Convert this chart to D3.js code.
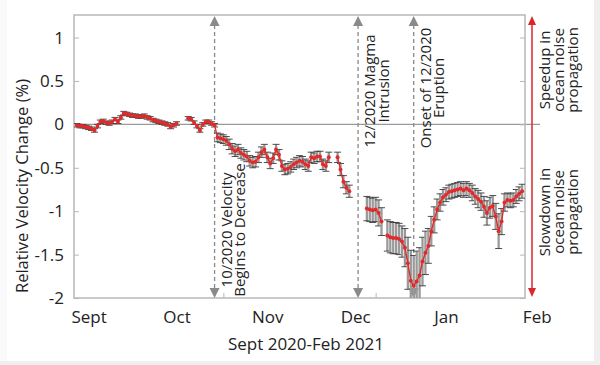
<!DOCTYPE html>
<html>
<head>
<meta charset="utf-8">
<script src="https://cdn.jsdelivr.net/npm/d3@7"></script>
<style>
  body { margin: 0; background: #fff; }
  svg { display: block; font-family: "Open Sans", sans-serif; }
</style>
</head>
<body>
<div id="chart"></div>
<script>
//size
const width = 600;
const height = 365;

//plot box
const plot = { left: 74, right: 525, top: 15, bottom: 298 };

//first sample, then one sample per day
const firstDay = "2020-08-28";

//relative velocity change (%), null = no measurement
const dvv = [
  -0.01, -0.02, -0.02, -0.03, -0.04, -0.05, -0.07, -0.02, 0.03, 0.04,
  0.02, 0.01, 0.03, 0.06, 0.03, 0.08, 0.13, 0.12, 0.11, 0.10,
  0.10, 0.09, 0.09, 0.10, 0.08, 0.07, 0.05, 0.04, 0.03, 0.02,
  0.01, 0.00, -0.03, -0.01, 0.01, null, null, null, 0.07, 0.06,
  0.02, -0.02, -0.07, 0.00, 0.03, 0.03, 0.01, -0.01,
  -0.15, -0.16, -0.17, -0.19, -0.23, -0.28, -0.31, -0.29, -0.33, -0.35,
  -0.37, -0.42, -0.44, -0.43, -0.38, -0.32, -0.29, -0.38, -0.45, -0.39,
  -0.29, -0.35, -0.48, -0.52, -0.51, -0.49, -0.46, -0.44, -0.42, -0.43,
  -0.46, -0.48, -0.38, -0.39, -0.37, -0.37, -0.46, -0.48, -0.38, null,
  null, -0.38, -0.52, -0.66, -0.73, -0.77,
  null, null, null, null, null,
  -0.97, -0.98, -0.99, -0.98, -1.02, -1.12, null,
  -1.28, -1.30, -1.31, -1.31, -1.32, -1.35,
  -1.42, -1.60, -1.80, -1.86, -1.81, -1.74, -1.58, -1.48, -1.40,
  -1.23, -1.10, -0.98, -0.90, -0.84, -0.81, -0.78, -0.77, -0.76, -0.75,
  -0.74, -0.76, -0.74, -0.76, -0.79, -0.83, -0.86, -0.89,
  -0.95, -1.02, -0.96, -0.94, -1.06, -1.23, -1.12, -0.90, -0.87, -0.88,
  -0.87, -0.83, -0.80, -0.77,
];

//error bar half length (%)
const dvvErr = [
  0.02, 0.02, 0.02, 0.02, 0.02, 0.02, 0.02, 0.02, 0.02, 0.02,
  0.02, 0.02, 0.02, 0.02, 0.02, 0.02, 0.02, 0.02, 0.02, 0.02,
  0.02, 0.02, 0.02, 0.02, 0.02, 0.02, 0.02, 0.02, 0.02, 0.02,
  0.02, 0.02, 0.02, 0.02, 0.02, 0, 0, 0, 0.02, 0.02,
  0.02, 0.02, 0.02, 0.02, 0.02, 0.02, 0.02, 0.02,
  0.05, 0.05, 0.05, 0.05, 0.06, 0.06, 0.06, 0.06, 0.06, 0.06,
  0.06, 0.06, 0.06, 0.06, 0.06, 0.06, 0.06, 0.06, 0.06, 0.06,
  0.06, 0.06, 0.06, 0.06, 0.06, 0.06, 0.06, 0.06, 0.06, 0.06,
  0.06, 0.06, 0.06, 0.06, 0.06, 0.06, 0.06, 0.06, 0.06, 0,
  0, 0.06, 0.07, 0.07, 0.07, 0.07,
  0, 0, 0, 0, 0,
  0.14, 0.14, 0.14, 0.14, 0.15, 0.16, 0,
  0.18, 0.18, 0.18, 0.18, 0.18, 0.18,
  0.22, 0.30, 0.35, 0.35, 0.35, 0.32, 0.28, 0.25, 0.20,
  0.17, 0.15, 0.12, 0.10, 0.09, 0.08, 0.08, 0.08, 0.08, 0.08,
  0.08, 0.08, 0.08, 0.08, 0.09, 0.09, 0.10, 0.10,
  0.12, 0.14, 0.12, 0.12, 0.15, 0.20, 0.15, 0.10, 0.08, 0.08,
  0.08, 0.08, 0.08, 0.08,
];

//x axis
const xDomain = ["2020-08-27", "2021-01-28"];
const monthDates = ["2020-09-01", "2020-10-01", "2020-11-01", "2020-12-01", "2021-01-01", "2021-02-01"];
const monthLabels = ["Sept", "Oct", "Nov", "Dec", "Jan", "Feb"];
const minorTickDates = ["2020-10-17", "2020-12-08"];

//y axis
const yDomain = [-2, 1.26];
const yTicks = [1, 0.5, 0, -0.5, -1, -1.5, -2];

//events
const eventDates = ["2020-10-14", "2020-12-02", "2020-12-21"];
const eventLabels = [
  ["10/2020 Velocity", "Begins to Decrease"],
  ["12/2020 Magma", "Intrusion"],
  ["Onset of 12/2020", "Eruption"],
];
//label centre (y) for each event label
const eventLabelY = [230, 91, 88];

const parseDate = d3.utcParse("%Y-%m-%d");
const red = "#e12a2a";
const textColor = "#222";
const axisFont = 17;

//scales
const x = d3.scaleUtc().domain(xDomain.map(parseDate)).range([plot.left, plot.right]);
const y = d3.scaleLinear().domain(yDomain).range([plot.bottom, plot.top]);

//samples
const start = parseDate(firstDay);
const samples = dvv.map((v, i) => ({
  date: d3.utcDay.offset(start, i),
  v: v,
  err: dvvErr[i],
}));
const valid = samples.filter((d) => d.v !== null);

const svg = d3
  .select("#chart")
  .append("svg")
  .attr("width", width)
  .attr("height", height);

//page frame
svg.append("rect").attr("width", width).attr("height", height).attr("fill", "#efefef");
svg.append("rect").attr("x", 7).attr("y", 0).attr("width", 587).attr("height", 361).attr("fill", "#fff");
svg.append("rect").attr("x", 0).attr("y", 0).attr("width", 7).attr("height", 361).attr("fill", "#fafafa");

//clip for data
svg
  .append("clipPath")
  .attr("id", "clip")
  .append("rect")
  .attr("x", plot.left)
  .attr("y", plot.top)
  .attr("width", plot.right - plot.left)
  .attr("height", plot.bottom - plot.top);

//zero line
svg
  .append("line")
  .attr("x1", plot.left)
  .attr("x2", 540)
  .attr("y1", y(0))
  .attr("y2", y(0))
  .attr("stroke", "#9a9a9a")
  .attr("stroke-width", 1.2);

//plot box
svg
  .append("rect")
  .attr("x", plot.left)
  .attr("y", plot.top)
  .attr("width", plot.right - plot.left)
  .attr("height", plot.bottom - plot.top)
  .attr("fill", "none")
  .attr("stroke", "#b8b8b8")
  .attr("stroke-width", 1.5);

//left axis
const gLeft = svg
  .append("g")
  .attr("transform", `translate(${plot.left},0)`)
  .call(d3.axisLeft(y).tickValues(yTicks).tickSize(-5).tickPadding(10).tickFormat(d3.format("")));
gLeft.select(".domain").remove();
gLeft.selectAll(".tick line").attr("stroke", "#b8b8b8");
gLeft
  .selectAll(".tick text")
  .attr("font-family", "Open Sans")
  .attr("font-size", axisFont)
  .attr("fill", textColor)
  .text((d) => (d < 0 ? "-" + Math.abs(d) : d));

//right axis (ticks only)
const gRight = svg
  .append("g")
  .attr("transform", `translate(${plot.right},0)`)
  .call(d3.axisRight(y).tickValues(yTicks).tickSize(-5).tickFormat(""));
gRight.select(".domain").remove();
gRight.selectAll(".tick line").attr("stroke", "#b8b8b8");

//bottom axis month labels
const gBottom = svg
  .append("g")
  .attr("transform", `translate(0,${plot.bottom})`)
  .call(
    d3
      .axisBottom(x)
      .tickValues(monthDates.map(parseDate))
      .tickSize(0)
      .tickPadding(13)
      .tickFormat((d, i) => monthLabels[i])
  );
gBottom.select(".domain").remove();
gBottom
  .selectAll(".tick text")
  .attr("font-family", "Open Sans")
  .attr("font-size", axisFont)
  .attr("fill", textColor);

//bottom minor ticks
const gMinor = svg
  .append("g")
  .attr("transform", `translate(0,${plot.bottom})`)
  .call(d3.axisBottom(x).tickValues(minorTickDates.map(parseDate)).tickSize(-5).tickFormat(""));
gMinor.select(".domain").remove();
gMinor.selectAll(".tick line").attr("stroke", "#b8b8b8");

//axis titles
svg
  .append("text")
  .attr("x", 306)
  .attr("y", 350)
  .attr("text-anchor", "middle")
  .attr("font-size", axisFont)
  .attr("fill", textColor)
  .text("Sept 2020-Feb 2021");

svg
  .append("text")
  .attr("transform", "translate(28,186) rotate(-90)")
  .attr("text-anchor", "middle")
  .attr("font-size", 16.5)
  .attr("fill", textColor)
  .text("Relative Velocity Change (%)");

//event arrows
const gEvent = svg
  .selectAll("g.event")
  .data(eventDates.map(parseDate))
  .enter()
  .append("g")
  .attr("class", "event")
  .attr("transform", (d) => `translate(${x(d)},0)`);

gEvent
  .append("line")
  .attr("y1", plot.top + 10)
  .attr("y2", plot.bottom - 10)
  .attr("stroke", "#8a8a8a")
  .attr("stroke-width", 1.3)
  .attr("stroke-dasharray", "4,3");

gEvent
  .append("path")
  .attr("d", `M0,${plot.top + 1}L-5,${plot.top + 11}L5,${plot.top + 11}Z`)
  .attr("fill", "#8a8a8a");

gEvent
  .append("path")
  .attr("d", `M0,${plot.bottom}L-5,${plot.bottom - 10}L5,${plot.bottom - 10}Z`)
  .attr("fill", "#8a8a8a");

//event labels
gEvent
  .append("text")
  .attr("transform", (d, i) => `translate(17,${eventLabelY[i]}) rotate(-90)`)
  .attr("text-anchor", "middle")
  .attr("font-size", 15)
  .attr("fill", textColor)
  .each(function (d, i) {
    d3.select(this)
      .selectAll("tspan")
      .data(eventLabels[i])
      .enter()
      .append("tspan")
      .attr("x", 0)
      .attr("y", (t, j) => j * 13.5)
      .text((t) => t);
  });

//data layer
const gData = svg.append("g").attr("clip-path", "url(#clip)");

//error bars
const gErr = gData
  .selectAll("g.err")
  .data(valid.filter((d) => d.err > 0))
  .enter()
  .append("g")
  .attr("class", "err");

gErr
  .append("line")
  .attr("x1", (d) => x(d.date))
  .attr("x2", (d) => x(d.date))
  .attr("y1", (d) => y(d.v + d.err))
  .attr("y2", (d) => y(d.v - d.err))
  .attr("stroke", "#9a9a9a")
  .attr("stroke-width", 2.3);

gErr
  .selectAll("line.cap")
  .data((d) => [
    [d.date, d.v + d.err],
    [d.date, d.v - d.err],
  ])
  .enter()
  .append("line")
  .attr("class", "cap")
  .attr("x1", (c) => x(c[0]) - 3.5)
  .attr("x2", (c) => x(c[0]) + 3.5)
  .attr("y1", (c) => y(c[1]))
  .attr("y2", (c) => y(c[1]))
  .attr("stroke", "#3a3a3a")
  .attr("stroke-width", 0.9);

//red line
const line = d3
  .line()
  .defined((d) => d.v !== null)
  .x((d) => x(d.date))
  .y((d) => y(d.v));

gData
  .append("path")
  .datum(samples)
  .attr("d", line)
  .attr("fill", "none")
  .attr("stroke", red)
  .attr("stroke-width", 1.4);

//red dots
gData
  .selectAll("circle.dot")
  .data(valid)
  .enter()
  .append("circle")
  .attr("class", "dot")
  .attr("cx", (d) => x(d.date))
  .attr("cy", (d) => y(d.v))
  .attr("r", 2)
  .attr("fill", red);

//speedup / slowdown arrow
const arrowX = 532;
svg
  .append("line")
  .attr("x1", arrowX)
  .attr("x2", arrowX)
  .attr("y1", plot.top + 8)
  .attr("y2", plot.bottom - 8)
  .attr("stroke", "#d9262c")
  .attr("stroke-width", 1.5);
svg
  .append("path")
  .attr("d", `M${arrowX},${plot.top + 1}L${arrowX - 4},${plot.top + 10}L${arrowX + 4},${plot.top + 10}Z`)
  .attr("fill", "#d9262c");
svg
  .append("path")
  .attr("d", `M${arrowX},${plot.bottom - 1}L${arrowX - 4},${plot.bottom - 10}L${arrowX + 4},${plot.bottom - 10}Z`)
  .attr("fill", "#d9262c");

const sideLabels = [
  { lines: ["Speedup in", "ocean noise", "propagation"], cy: 70 },
  { lines: ["Slowdown in", "ocean noise", "propagation"], cy: 212 },
];

svg
  .selectAll("text.side")
  .data(sideLabels)
  .enter()
  .append("text")
  .attr("class", "side")
  .attr("transform", (d) => `translate(550,${d.cy}) rotate(-90)`)
  .attr("text-anchor", "middle")
  .attr("font-size", 15)
  .attr("fill", textColor)
  .each(function (d) {
    d3.select(this)
      .selectAll("tspan")
      .data(d.lines)
      .enter()
      .append("tspan")
      .attr("x", 0)
      .attr("y", (t, j) => j * 14)
      .text((t) => t);
  });
</script>
</body>
</html>
